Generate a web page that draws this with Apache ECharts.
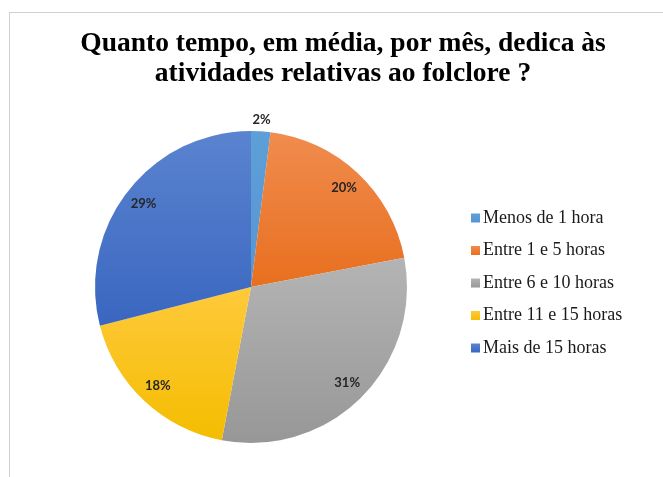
<!DOCTYPE html>
<html>
<head>
<meta charset="utf-8">
<script src="https://cdn.jsdelivr.net/npm/echarts@6/dist/echarts.min.js"></script>
<style>
  html, body { margin: 0; padding: 0; background: #fff; }
  #frame { position: absolute; left: 9px; top: 12px; width: 660px; height: 470px;
           border-left: 1px solid #d0d0d0; border-top: 1px solid #d0d0d0; }
  #chart { position: absolute; left: 0; top: 0; width: 663px; height: 477px; }
</style>
</head>
<body>
<div id="frame"></div>
<div id="chart"></div>
<script>
// dados do gráfico
const categorias = ['Menos de 1 hora', 'Entre 1 e 5 horas', 'Entre 6 e 10 horas', 'Entre 11 e 15 horas', 'Mais de 15 horas'];
const percentagens = [2, 20, 31, 18, 29];
const titulo = 'Quanto tempo, em média, por mês, dedica às\natividades relativas ao folclore ?';

// cores (topo -> base) para imitar o degradê do Excel
const coresTopo = ['#5f9fd8', '#f08c4e', '#b4b4b4', '#ffc93c', '#5a84cf'];
const coresBase = ['#5596d2', '#e86f1f', '#979797', '#f4bd00', '#3a66c0'];

const grad = (i) => new echarts.graphic.LinearGradient(0, 0, 0, 1, [
  { offset: 0, color: coresTopo[i] },
  { offset: 1, color: coresBase[i] }
]);

const chart = echarts.init(document.getElementById('chart'), null, { renderer: 'canvas' });

const centro = [251, 287];
const estiloRotulo = {
  formatter: (p) => p.value + '%',
  fontFamily: 'Lato',
  fontWeight: 'bold',
  fontSize: 13,
  color: '#262626'
};

chart.setOption({
  animation: false,
  title: {
    text: titulo,
    left: 338,
    top: 24,
    textAlign: 'center',
    textStyle: {
      fontFamily: 'Liberation Serif',
      fontWeight: 'bold',
      fontSize: 27.5,
      lineHeight: 30,
      color: '#000'
    }
  },
  legend: {
    orient: 'vertical',
    left: 466,
    top: 204,
    itemWidth: 9,
    itemHeight: 9,
    itemGap: 14.5,
    icon: 'rect',
    data: categorias,
    textStyle: {
      fontFamily: 'Liberation Serif',
      fontSize: 18,
      color: '#1a1a1a',
      padding: [0, 0, 0, -2],
      lineHeight: 18
    }
  },
  series: [
    {
      type: 'pie',
      center: centro,
      radius: 156,
      startAngle: 90,
      clockwise: true,
      label: { show: false },
      labelLine: { show: false },
      emphasis: { disabled: true },
      data: categorias.map((nome, i) => ({
        name: nome,
        value: percentagens[i],
        itemStyle: { color: grad(i) }
      }))
    },
    {
      // camada transparente só para os rótulos internos
      type: 'pie',
      center: centro,
      radius: [110, 156],
      startAngle: 90,
      clockwise: true,
      silent: true,
      legendHoverLink: false,
      emphasis: { disabled: true },
      itemStyle: { color: 'rgba(0,0,0,0)' },
      label: Object.assign({ show: true, position: 'inside' }, estiloRotulo),
      labelLine: { show: false },
      data: categorias.map((nome, i) => ({
        name: nome,
        value: percentagens[i],
        label: { show: i !== 0 }
      }))
    },
    {
      // camada transparente para o rótulo da fatia pequena (fora do círculo)
      type: 'pie',
      center: centro,
      radius: [156, 174],
      startAngle: 90,
      clockwise: true,
      silent: true,
      legendHoverLink: false,
      emphasis: { disabled: true },
      itemStyle: { color: 'rgba(0,0,0,0)' },
      label: Object.assign({ show: true, position: 'inside' }, estiloRotulo),
      labelLine: { show: false },
      data: categorias.map((nome, i) => ({
        name: nome,
        value: percentagens[i],
        label: { show: i === 0 }
      }))
    }
  ]
});
</script>
</body>
</html>
